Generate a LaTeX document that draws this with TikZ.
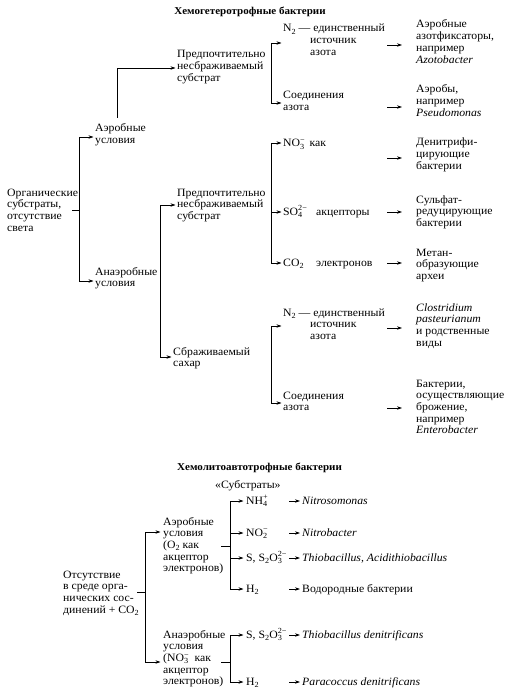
\documentclass[tikz,border=0pt]{standalone}
\usepackage{fontspec}
\setmainfont{Liberation Serif}[FakeStretch=1.05]
\usetikzlibrary{arrows.meta}
\newcommand{\ml}[1]{\begin{tabular}[t]{@{}l@{}}#1\end{tabular}}
\newcommand{\sbs}[1]{\lower2.2pt\hbox{\fontsize{7.8}{8}\selectfont #1}}
\newcommand{\sbsp}[2]{%
 \setbox0=\hbox{\fontsize{7.8}{8}\selectfont #1}%
 \setbox2=\hbox{\fontsize{7.8}{8}\selectfont #2}%
 \ifdim\wd0>\wd2 \dimen0=\wd0 \else \dimen0=\wd2 \fi
 \rlap{\lower2.2pt\box0}\rlap{\raise4.2pt\box2}\hspace{\dimen0}}
\begin{document}
\begin{tikzpicture}[x=1pt,y=-1pt,
 every node/.style={inner sep=0pt, anchor=base west, font=\fontsize{11.2}{11.7}\selectfont},
 ttl/.style={font=\fontsize{10.5}{12}\selectfont\bfseries},
 ln/.style={line width=0.7pt},
 arr/.style={ln,-{Stealth[length=5pt,width=3.4pt]}}]
\useasboundingbox (0,0) rectangle (507,695);
% ---------- top section ----------
\node[ttl,anchor=base] (t1) at (250,15) {Хемогетеротрофные бактерии};
\node (org) at (7,196) {\ml{Органические\\субстраты,\\отсутствие\\света}};
\node (aer) at (95,132) {\ml{Аэробные\\условия}};
\node (anaer) at (95,275) {\ml{Анаэробные\\условия}};
\node (pref1) at (177,58) {\ml{Предпочтительно\\несбраживаемый\\субстрат}};
\node (pref2) at (177,196) {\ml{Предпочтительно\\несбраживаемый\\субстрат}};
\node (sbr) at (173,355) {\ml{Сбраживаемый\\сахар}};
\node (n2a) at (283,32) {\ml{N\sbs{2} — единственный\\\hspace*{27pt}источник\\\hspace*{27pt}азота}};
\node (soed1) at (283,99) {\ml{Соединения\\азота}};
\node (no3) at (283,147) {NO\sbsp{3}{−}\ \,как};
\node (so4) at (283,215) {SO\sbsp{4}{2−}};
\node (acc) at (316,215) {акцепторы};
\node (co2) at (283,266) {CO\sbs{2}};
\node (el) at (316,266) {электронов};
\node (n2b) at (283,316) {\ml{N\sbs{2} — единственный\\\hspace*{27pt}источник\\\hspace*{27pt}азота}};
\node (soed2) at (283,399) {\ml{Соединения\\азота}};
\node (res1) at (416,28) {\ml{Аэробные\\азотфиксаторы,\\например\\\textit{Azotobacter}}};
\node (res2) at (416,93) {\ml{Аэробы,\\например\\\textit{Pseudomonas}}};
\node (den) at (416,146) {\ml{Денитрифи-\\цирующие\\бактерии}};
\node (sulf) at (416,203) {\ml{Сульфат-\\редуцирующие\\бактерии}};
\node (met) at (416,256) {\ml{Метан-\\образующие\\археи}};
\node (clos) at (416,311) {\ml{\textit{Clostridium}\\\textit{pasteurianum}\\и родственные\\виды}};
\node (bact) at (416,387) {\ml{Бактерии,\\осуществляющие\\брожение,\\например\\\textit{Enterobacter}}};
% connectors top
\coordinate (s1a) at (72,210); \coordinate (s1b) at (79,210);
\coordinate (b1t) at (79,137); \coordinate (b1b) at (79,281);
\draw[ln] (s1a) -- (s1b);
\draw[arr] (b1b) -- (b1t) -- ([xshift=-1.5pt]aer.west |- b1t);
\draw[arr] (b1t) -- (b1b) -- ([xshift=-1.5pt]anaer.west |- b1b);
\coordinate (b2s) at (117,118); \coordinate (b2t) at (117,68);
\draw[arr] (b2s) -- (b2t) -- ([xshift=-1.5pt]pref1.west |- b2t);
\coordinate (b3t) at (160,205); \coordinate (b3b) at (160,357);
\draw[arr] (b3b) -- (b3t) -- ([xshift=-1.5pt]pref2.west |- b3t);
\draw[arr] (b3t) -- (b3b) -- ([xshift=-1.5pt]sbr.west |- b3b);
\coordinate (b4t) at (271,43); \coordinate (b4b) at (271,103);
\draw[arr] (b4b) -- (b4t) -- ([xshift=-1.5pt]n2a.west |- b4t);
\draw[arr] (b4t) -- (b4b) -- ([xshift=-1.5pt]soed1.west |- b4b);
\coordinate (b5t) at (271,143); \coordinate (b5m) at (271,212); \coordinate (b5b) at (271,263);
\draw[arr] (b5b) -- (b5t) -- ([xshift=-1.5pt]no3.west |- b5t);
\draw[arr] (b5m) -- ([xshift=-1.5pt]so4.west |- b5m);
\draw[arr] (b5t) -- (b5b) -- ([xshift=-1.5pt]co2.west |- b5b);
\coordinate (b6t) at (271,326); \coordinate (b6b) at (271,403);
\draw[arr] (b6b) -- (b6t) -- ([xshift=-1.5pt]n2b.west |- b6t);
\draw[arr] (b6t) -- (b6b) -- ([xshift=-1.5pt]soed2.west |- b6b);
\coordinate (ma1) at (387,45);  \draw[arr] (ma1) -- ([xshift=-14pt]res1.west |- ma1);
\coordinate (ma2) at (387,107); \draw[arr] (ma2) -- ([xshift=-14pt]res2.west |- ma2);
\coordinate (ma3) at (387,158); \draw[arr] (ma3) -- ([xshift=-14pt]den.west |- ma3);
\coordinate (ma4) at (387,212); \draw[arr] (ma4) -- ([xshift=-14pt]sulf.west |- ma4);
\coordinate (ma5) at (387,263); \draw[arr] (ma5) -- ([xshift=-14pt]met.west |- ma5);
\coordinate (ma6) at (387,328); \draw[arr] (ma6) -- ([xshift=-14pt]clos.west |- ma6);
\coordinate (ma7) at (387,408); \draw[arr] (ma7) -- ([xshift=-14pt]bact.west |- ma7);
% ---------- bottom section ----------
\node[ttl] (t2) at (177,470) {Хемолитоавтотрофные бактерии};
\node (subs) at (215,488) {«Субстраты»};
\node (ots) at (63,578) {\ml{Отсутствие\\в среде орга-\\нических сос-\\динений + CO\sbs{2}}};
\node (aerb) at (163,525) {\ml{Аэробные\\условия\\(O\sbs{2} как\\акцептор\\электронов)}};
\node (anaerb) at (163,638) {\ml{Анаэробные\\условия\\(NO\sbsp{3}{−}\ \ как\\акцептор\\электронов)}};
\node (nh4) at (246,504) {NH\sbsp{4}{+}};
\node (no2) at (246,536) {NO\sbsp{2}{−}};
\node (s1) at (246,561) {S, S\sbs{2}O\sbsp{3}{2−}};
\node (h2a) at (246,592) {H\sbs{2}};
\node (s2) at (246,638) {S, S\sbs{2}O\sbsp{3}{2−}};
\node (h2b) at (246,685) {H\sbs{2}};
\node (nitroso) at (302,504) {\textit{Nitrosomonas}};
\node (nitrob) at (302,536) {\textit{Nitrobacter}};
\node (thio) at (302,561) {\textit{Thiobacillus, Acidithiobacillus}};
\node (vodor) at (302,592) {Водородные бактерии};
\node (thiod) at (302,638) {\textit{Thiobacillus denitrificans}};
\node (para) at (302,685) {\textit{Paracoccus denitrificans}};
% connectors bottom
\coordinate (s7a) at (137,592); \coordinate (s7b) at (145,592);
\coordinate (b7t) at (145,532); \coordinate (b7b) at (145,662);
\draw[ln] (s7a) -- (s7b);
\draw[arr] (b7b) -- (b7t) -- ([xshift=-2.5pt]aerb.west |- b7t);
\draw[arr] (b7t) -- (b7b) -- ([xshift=-2.5pt]anaerb.west |- b7b);
\coordinate (s8a) at (221,546); \coordinate (s8b) at (230,546);
\coordinate (b8a) at (230,501); \coordinate (b8b) at (230,533);
\coordinate (b8c) at (230,558); \coordinate (b8d) at (230,589);
\draw[ln] (s8a) -- (s8b);
\draw[arr] (b8d) -- (b8a) -- ([xshift=-2.5pt]nh4.west |- b8a);
\draw[arr] (b8b) -- ([xshift=-2.5pt]no2.west |- b8b);
\draw[arr] (b8c) -- ([xshift=-2.5pt]s1.west |- b8c);
\draw[arr] (b8a) -- (b8d) -- ([xshift=-2.5pt]h2a.west |- b8d);
\coordinate (s9a) at (221,662); \coordinate (s9b) at (230,662);
\coordinate (b9t) at (230,635); \coordinate (b9b) at (230,682);
\draw[ln] (s9a) -- (s9b);
\draw[arr] (b9b) -- (b9t) -- ([xshift=-2.5pt]s2.west |- b9t);
\draw[arr] (b9t) -- (b9b) -- ([xshift=-2.5pt]h2b.west |- b9b);
\coordinate (r1) at (289,501); \draw[arr] (r1) -- ([xshift=-2pt]nitroso.west |- r1);
\coordinate (r2) at (289,533); \draw[arr] (r2) -- ([xshift=-2pt]nitrob.west |- r2);
\coordinate (r3) at (289,558); \draw[arr] (r3) -- ([xshift=-2pt]thio.west |- r3);
\coordinate (r4) at (289,589); \draw[arr] (r4) -- ([xshift=-2pt]vodor.west |- r4);
\coordinate (r5) at (289,635); \draw[arr] (r5) -- ([xshift=-2pt]thiod.west |- r5);
\coordinate (r6) at (289,682); \draw[arr] (r6) -- ([xshift=-2pt]para.west |- r6);
\end{tikzpicture}
\end{document}
